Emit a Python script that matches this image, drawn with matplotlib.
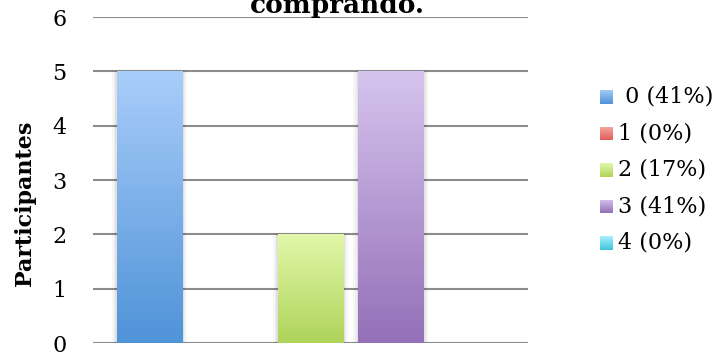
import matplotlib.pyplot as plt
import numpy as np
from matplotlib.colors import LinearSegmentedColormap
from matplotlib.patches import Rectangle

plt.rcParams['font.family'] = ['DejaVu Serif']

series = ['0 (41%)', '1 (0%)', '2 (17%)', '3 (41%)', '4 (0%)']
values = [5, 0, 2, 5, 0]
tops = ['#a9cdfa', '#f6a9a5', '#e2f8aa', '#d6c4ee', '#a9f1fb']
bottoms = ['#4f93d8', '#df5e57', '#afd35a', '#9470b8', '#3fc3db']

fig = plt.figure(figsize=(7.2, 3.56), dpi=100)
ax = fig.add_axes([0.129, 0.0365, 0.604, 0.9155])

w = 0.81
grad = np.linspace(1, 0, 256).reshape(-1, 1)
for i, v in enumerate(values):
    cmap = LinearSegmentedColormap.from_list('g', [bottoms[i], tops[i]])
    if v > 0:
        # soft shadow
        for k, a in enumerate([0.05, 0.04, 0.03]):
            d = 0.02 * (k + 1)
            ax.add_patch(Rectangle((i - w / 2 - d, 0), w + 2 * d, v + d * 0.3,
                                   facecolor='black', alpha=a, edgecolor='none', zorder=2))
        ax.imshow(grad, cmap=cmap, aspect='auto', extent=(i - w / 2, i + w / 2, 0, v),
                  zorder=3, vmin=0, vmax=1)
ax.set_xlim(-0.702, 4.702)
ax.set_ylim(0, 6)
ax.set_yticks(range(7))
ax.set_xticks([])
ax.yaxis.grid(True, color='#8c8c8c', linewidth=1.5, zorder=1)
ax.set_axisbelow(True)
for s in ax.spines.values():
    s.set_visible(False)
ax.tick_params(axis='y', length=0, pad=19, labelsize=16)
ax.set_ylabel('Participantes', fontsize=16, fontweight='bold')
ax.yaxis.set_label_coords(-0.13, 0.43)
fig.text(337 / 720, 1 - 13 / 356, 'comprando.', ha='center', va='baseline', fontsize=19, fontweight='bold')

# legend
for i, name in enumerate(series):
    y = 97 + i * 36.5
    lax = fig.add_axes([600 / 720, 1 - (y + 7) / 356, 13 / 720, 14 / 356])
    cmap = LinearSegmentedColormap.from_list('g', [bottoms[i], tops[i]])
    lax.imshow(grad, cmap=cmap, aspect='auto', vmin=0, vmax=1)
    lax.axis('off')
    label = (' ' if i == 0 else '') + name
    fig.text(618 / 720, 1 - y / 356, label, ha='left', va='center', fontsize=16)

fig.savefig('out.png', dpi=100)
